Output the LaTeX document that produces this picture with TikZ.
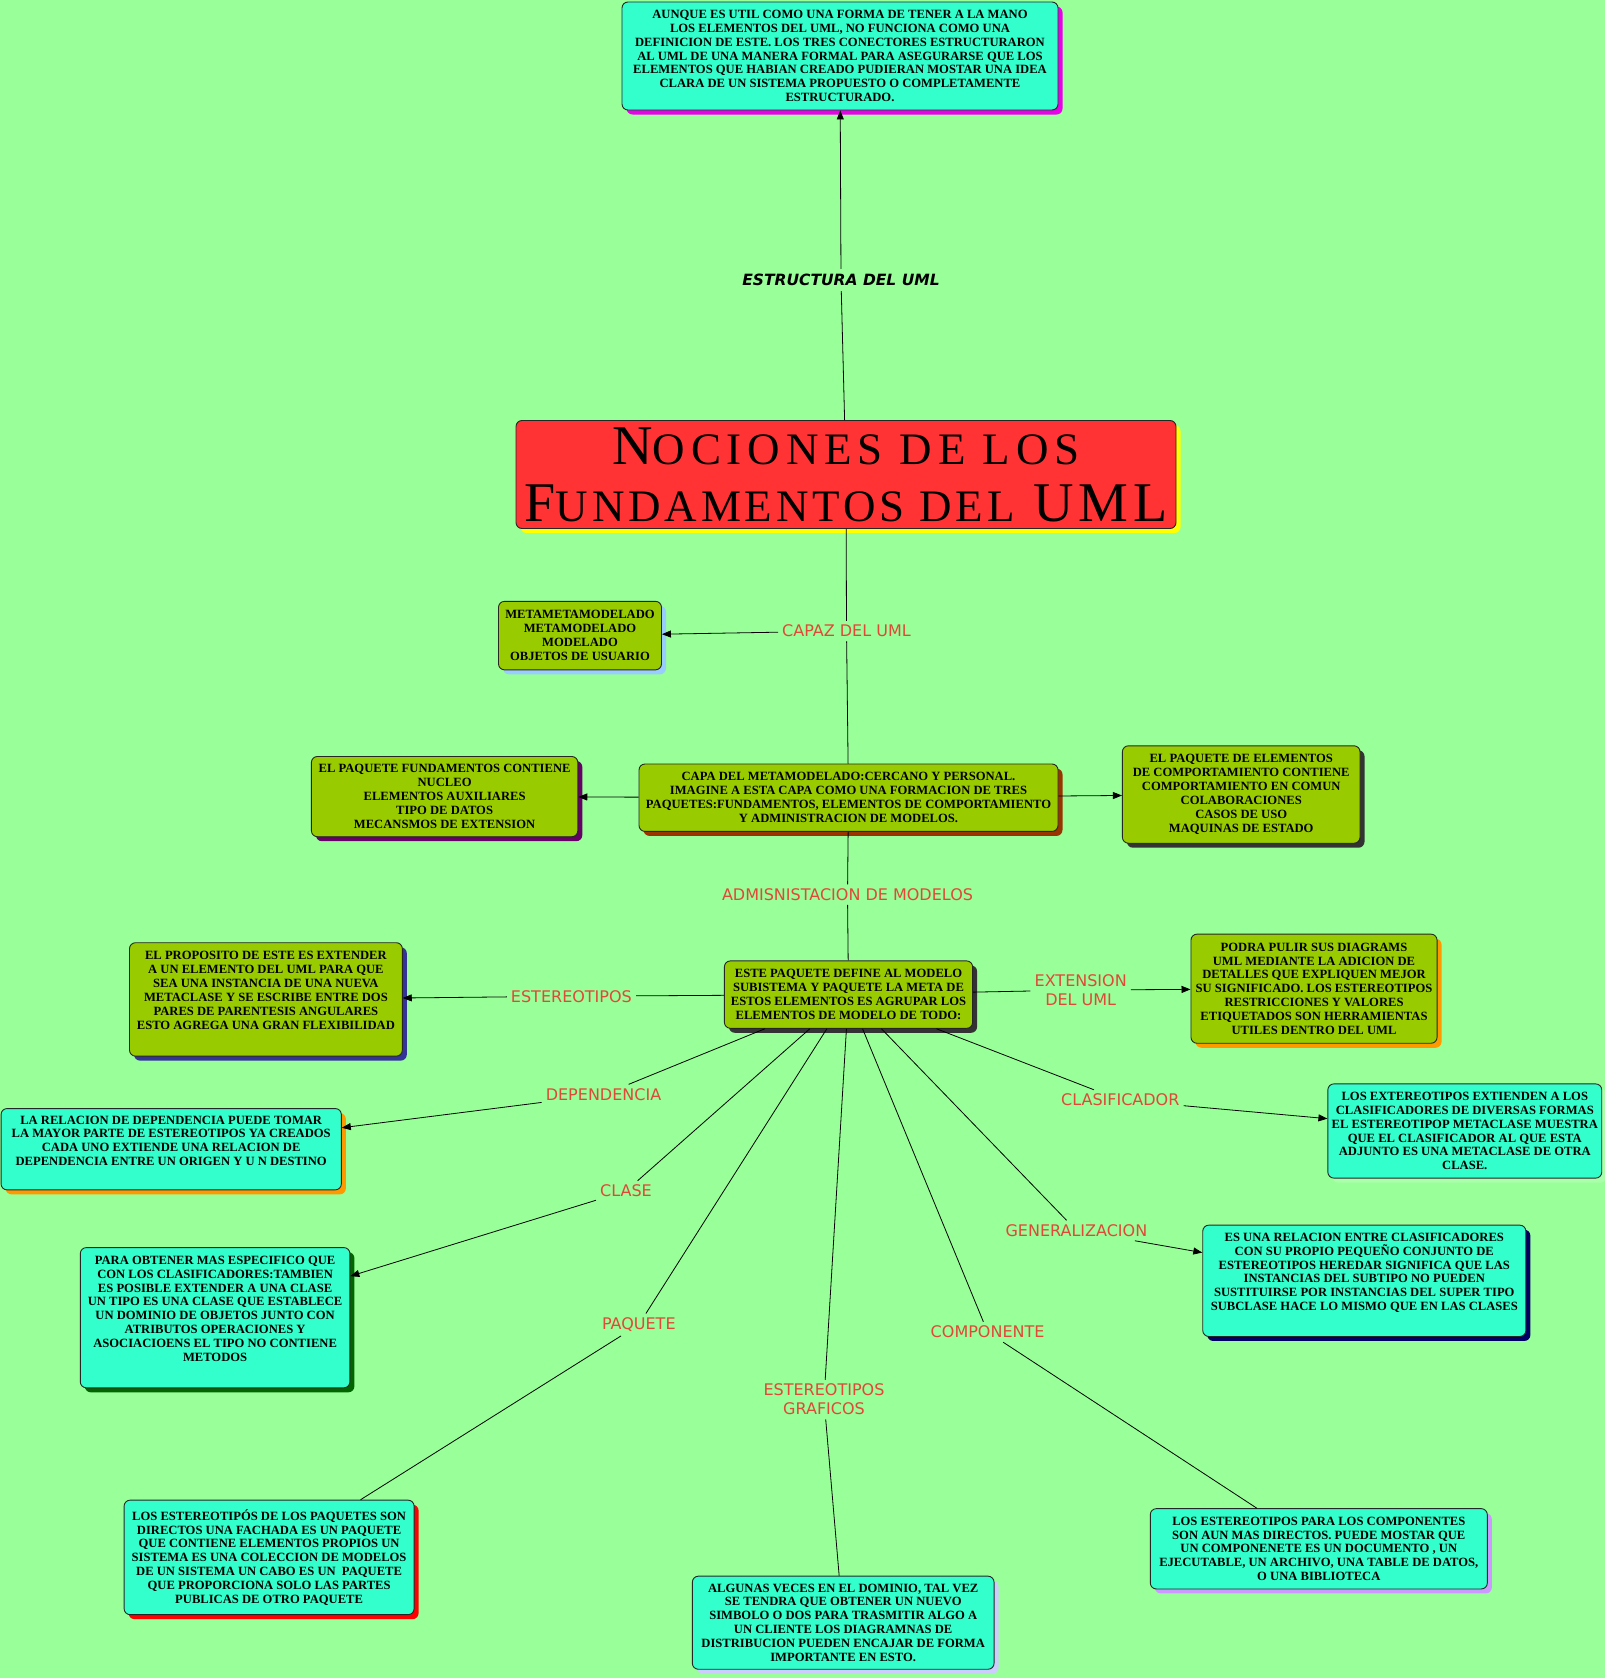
\documentclass[tikz,border=0pt]{standalone}
\usepackage{fontspec}
\newfontfamily\boxfont{Liberation Serif}
\newfontfamily\labfont{DejaVu Sans}
\newfontfamily\titlefont{Liberation Serif}
\newcommand\tsml{\fontsize{45}{57}\selectfont}
\usetikzlibrary{arrows.meta,shadows}
\definecolor{bggreen}{RGB}{153,255,153}
\definecolor{turq}{RGB}{51,255,204}
\definecolor{boxolive}{RGB}{153,204,0}
\definecolor{titlered}{RGB}{255,51,51}
\definecolor{labred}{RGB}{224,72,56}
\definecolor{shmag}{RGB}{235,0,235}
\definecolor{shyel}{RGB}{255,255,0}
\definecolor{shlblue}{RGB}{153,204,255}
\definecolor{shbrown}{RGB}{153,51,0}
\definecolor{shpurple}{RGB}{102,0,102}
\definecolor{shgray}{RGB}{51,51,51}
\definecolor{shnavy}{RGB}{51,51,153}
\definecolor{shorange}{RGB}{255,153,0}
\definecolor{shpale}{RGB}{170,255,170}
\definecolor{shdgreen}{RGB}{0,102,0}
\definecolor{shdnavy}{RGB}{0,0,102}
\definecolor{shred}{RGB}{255,0,0}
\definecolor{shlav}{RGB}{204,153,255}
\definecolor{shlav2}{RGB}{204,204,255}
\tikzset{
  box/.style={draw=black!85, line width=0.9pt, rounded corners=6pt, inner sep=0pt,
    align=center, font=\boxfont\bfseries\fontsize{12.6}{13.9}\selectfont},
  ob/.style={box, fill=boxolive},
  tb/.style={box, fill=turq},
  shd/.style={drop shadow={shadow xshift=4.5pt, shadow yshift=-4.5pt, fill=#1, opacity=1}},
  lab/.style={font=\labfont\fontsize{16}{19}\selectfont, text=labred, inner sep=4pt, align=center},
  con/.style={draw=black, line width=0.8pt},
  arr/.style={con, -{Triangle[length=9pt,width=7pt]}},
}
\begin{document}
\begin{tikzpicture}[x=1pt,y=-1pt]
\useasboundingbox (0,0) rectangle (1605,1678);
\fill[bggreen] (0,0) rectangle (1605,1678);

% boxes
\node[tb, shd=shmag, minimum width=436pt, minimum height=108pt] (top) at (840,56)
 {AUNQUE ES UTIL COMO UNA FORMA DE TENER A LA MANO\\
  LOS ELEMENTOS DEL UML, NO FUNCIONA COMO UNA\\
  DEFINICION DE ESTE. LOS TRES CONECTORES ESTRUCTURARON\\
  AL UML DE UNA MANERA FORMAL PARA ASEGURARSE QUE LOS\\
  ELEMENTOS QUE HABIAN CREADO PUDIERAN MOSTAR UNA IDEA\\
  CLARA DE UN SISTEMA PROPUESTO O COMPLETAMENTE\\
  ESTRUCTURADO.};

\node[box, fill=titlered, shd=shyel, minimum width=660pt, minimum height=108pt,
  font=\titlefont\fontsize{56}{57}\selectfont] (title) at (846,474.5)
 {{\addfontfeature{LetterSpace=13}N{\tsml OCIONES DE LOS}}\\{\addfontfeature{LetterSpace=8.5}F{\tsml UNDAMENTOS DEL} UML}};

\node[ob, shd=shlblue, minimum width=163pt, minimum height=68.5pt] (meta) at (580,635.6)
 {METAMETAMODELADO\\METAMODELADO\\MODELADO\\OBJETOS DE USUARIO};

\node[ob, shd=shbrown, minimum width=419pt, minimum height=67.4pt] (capa) at (848.5,797.7)
 {CAPA DEL METAMODELADO:CERCANO Y PERSONAL.\\
  IMAGINE A ESTA CAPA COMO UNA FORMACION DE TRES\\
  PAQUETES:FUNDAMENTOS, ELEMENTOS DE COMPORTAMIENTO\\
  Y ADMINISTRACION DE MODELOS.};

\node[ob, shd=shpurple, minimum width=266.4pt, minimum height=80.2pt] (fund) at (444.6,796.6)
 {EL PAQUETE FUNDAMENTOS CONTIENE\\NUCLEO\\ELEMENTOS AUXILIARES\\TIPO DE DATOS\\MECANSMOS DE EXTENSION};

\node[ob, shd=shgray, minimum width=237.6pt, minimum height=97.4pt] (comp) at (1241.2,794.5)
 {EL PAQUETE DE ELEMENTOS\\DE COMPORTAMIENTO CONTIENE\\COMPORTAMIENTO EN COMUN\\COLABORACIONES\\CASOS DE USO\\MAQUINAS DE ESTADO};

\node[ob, shd=shgray, minimum width=248.2pt, minimum height=67.4pt] (este) at (848.5,994.6)
 {ESTE PAQUETE DEFINE AL MODELO\\SUBISTEMA Y PAQUETE LA META DE\\ESTOS ELEMENTOS ES AGRUPAR LOS\\ELEMENTOS DE MODELO DE TODO:};

\node[ob, shd=shnavy, minimum width=272.8pt, minimum height=113.4pt, text depth=18pt] (prop) at (265.9,999.4)
 {EL PROPOSITO DE ESTE ES EXTENDER\\A UN ELEMENTO DEL UML PARA QUE\\SEA UNA INSTANCIA DE UNA NUEVA\\METACLASE Y SE ESCRIBE ENTRE DOS\\PARES DE PARENTESIS ANGULARES\\ESTO AGREGA UNA GRAN FLEXIBILIDAD};

\node[ob, shd=shorange, minimum width=246.1pt, minimum height=109.1pt] (podra) at (1314,988.7)
 {PODRA PULIR SUS DIAGRAMS\\UML MEDIANTE LA ADICION DE\\DETALLES QUE EXPLIQUEN MEJOR\\SU SIGNIFICADO. LOS ESTEREOTIPOS\\RESTRICCIONES Y VALORES\\ETIQUETADOS SON HERRAMIENTAS\\UTILES DENTRO DEL UML};

\node[tb, shd=shorange, minimum width=340.3pt, minimum height=81.3pt, text depth=17pt] (dep) at (171.2,1149.2)
 {LA RELACION DE DEPENDENCIA PUEDE TOMAR\\LA MAYOR PARTE DE ESTEREOTIPOS YA CREADOS\\CADA UNO EXTIENDE UNA RELACION DE\\DEPENDENCIA ENTRE UN ORIGEN Y U N DESTINO};

\node[tb, shd=shpale, minimum width=273.9pt, minimum height=94.2pt] (clasif) at (1464.8,1131)
 {LOS EXTEREOTIPOS EXTIENDEN A LOS\\CLASIFICADORES DE DIVERSAS FORMAS\\EL ESTEREOTIPOP METACLASE MUESTRA\\QUE EL CLASIFICADOR AL QUE ESTA\\ADJUNTO ES UNA METACLASE DE OTRA\\CLASE.};

\node[tb, shd=shdgreen, minimum width=269.6pt, minimum height=140.2pt, text depth=18pt] (clase) at (215.1,1317.7)
 {PARA OBTENER MAS ESPECIFICO QUE\\CON LOS CLASIFICADORES:TAMBIEN\\ES POSIBLE EXTENDER A UNA CLASE\\UN TIPO ES UNA CLASE QUE ESTABLECE\\UN DOMINIO DE OBJETOS JUNTO CON\\ATRIBUTOS OPERACIONES Y\\ASOCIACIOENS EL TIPO NO CONTIENE\\METODOS};

\node[tb, shd=shdnavy, minimum width=323.1pt, minimum height=111.3pt, text depth=18pt] (gen) at (1364.3,1280.8)
 {ES UNA RELACION ENTRE CLASIFICADORES\\CON SU PROPIO PEQUEÑO CONJUNTO DE\\ESTEREOTIPOS HEREDAR SIGNIFICA QUE LAS\\INSTANCIAS DEL SUBTIPO NO PUEDEN\\SUSTITUIRSE POR INSTANCIAS DEL SUPER TIPO\\SUBCLASE HACE LO MISMO QUE EN LAS CLASES};

\node[tb, shd=shred, minimum width=290pt, minimum height=114.5pt] (paq) at (269.1,1557.4)
 {LOS ESTEREOTIPÓS DE LOS PAQUETES SON\\DIRECTOS UNA FACHADA ES UN PAQUETE\\QUE CONTIENE ELEMENTOS PROPIOS UN\\SISTEMA ES UNA COLECCION DE MODELOS\\DE UN SISTEMA UN CABO ES UN\ \ PAQUETE\\QUE PROPORCIONA SOLO LAS PARTES\\PUBLICAS DE OTRO PAQUETE};

\node[tb, shd=shlav, minimum width=337pt, minimum height=80.3pt] (compo) at (1318.8,1548.8)
 {LOS ESTEREOTIPOS PARA LOS COMPONENTES\\SON AUN MAS DIRECTOS. PUEDE MOSTAR QUE\\UN COMPONENETE ES UN DOCUMENTO , UN\\EJECUTABLE, UN ARCHIVO, UNA TABLE DE DATOS,\\O UNA BIBLIOTECA};

\node[tb, shd=shlav2, minimum width=301.7pt, minimum height=93.1pt] (graf) at (843.2,1622.7)
 {ALGUNAS VECES EN EL DOMINIO, TAL VEZ\\SE TENDRA QUE OBTENER UN NUEVO\\SIMBOLO O DOS PARA TRASMITIR ALGO A\\UN CLIENTE LOS DIAGRAMNAS DE\\DISTRIBUCION PUEDEN ENCAJAR DE FORMA\\IMPORTANTE EN ESTO.};

% labels
\node[font=\labfont\bfseries\itshape\fontsize{15.5}{18}\selectfont, inner sep=5pt] (lEst) at (841,280) {ESTRUCTURA DEL UML};
\node[lab] (lCap) at (846.5,631) {CAPAZ DEL UML};
\node[lab] (lAdm) at (847.5,894.5) {ADMISNISTACION DE MODELOS};
\node[lab] (lSter) at (571.4,996.2) {ESTEREOTIPOS};
\node[lab] (lExt) at (1080.7,990) {EXTENSION\\DEL UML};
\node[lab] (lDep) at (603.5,1094.6) {DEPENDENCIA};
\node[lab] (lClf) at (1120.3,1100) {CLASIFICADOR};
\node[lab] (lCla) at (626,1191) {CLASE};
\node[lab] (lGen) at (1076.4,1230.5) {GENERALIZACION};
\node[lab] (lPaq) at (638.8,1324.7) {PAQUETE};
\node[lab] (lCmp) at (987.6,1332) {COMPONENTE};
\node[lab] (lGra) at (824,1399.6) {ESTEREOTIPOS\\GRAFICOS};

% connectors
\draw[con] (title) -- (lEst);
\draw[arr] (lEst) -- (top);
\draw[con] (title) -- (lCap);
\draw[con] (lCap) -- (capa);
\draw[arr] (lCap) -- (meta);
\draw[arr] (capa) -- (fund);
\draw[arr] (capa) -- (comp);
\draw[con] (capa) -- (lAdm);
\draw[con] (lAdm) -- (este);
\draw[con] (este) -- (lSter);
\draw[arr] (lSter) -- (prop);
\draw[con] (este) -- (lExt);
\draw[arr] (lExt) -- (podra);
\draw[con] (este) -- (lDep);
\draw[arr] (lDep) -- (dep);
\draw[con] (este) -- (lClf);
\draw[arr] (lClf) -- (clasif);
\draw[con] (este) -- (lCla);
\draw[arr] (lCla) -- (clase);
\draw[con] (este) -- (lGen);
\draw[arr] (lGen) -- (gen);
\draw[con] (este) -- (lPaq);
\draw[con] (lPaq) -- (paq);
\draw[con] (este) -- (lGra);
\draw[con] (lGra) -- (graf);
\draw[con] (este) -- (lCmp);
\draw[con] (lCmp) -- (compo);
\end{tikzpicture}
\end{document}
